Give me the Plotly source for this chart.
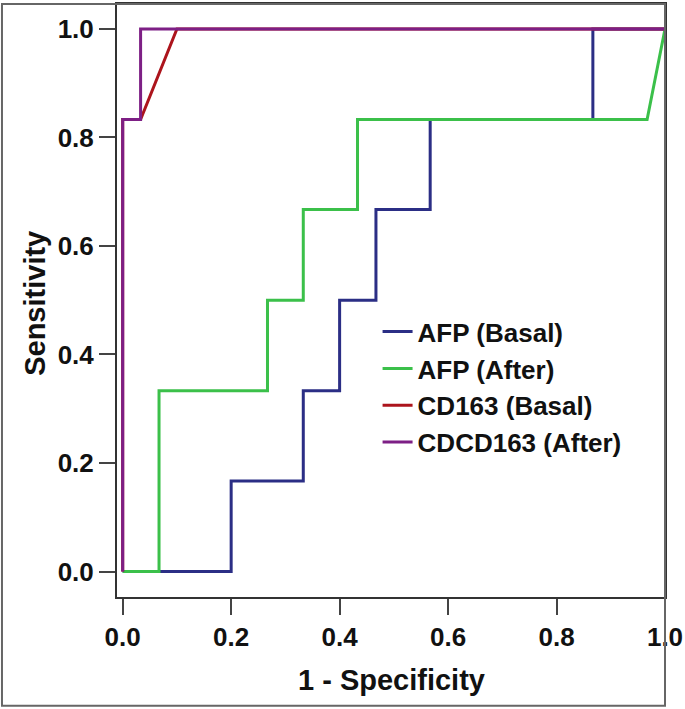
import plotly.graph_objects as go

# ROC curves (30 negatives, 6 positives)
afp_basal_x = [0, 0.2, 0.2, 0.333, 0.333, 0.4, 0.4, 0.467, 0.467, 0.567, 0.567, 0.867, 0.867, 1.0]
afp_basal_y = [0, 0, 0.167, 0.167, 0.333, 0.333, 0.5, 0.5, 0.667, 0.667, 0.833, 0.833, 1.0, 1.0]

afp_after_x = [0, 0.067, 0.067, 0.267, 0.267, 0.333, 0.333, 0.433, 0.433, 0.967, 1.0]
afp_after_y = [0, 0, 0.333, 0.333, 0.5, 0.5, 0.667, 0.667, 0.833, 0.833, 1.0]

cd163_basal_x = [0, 0, 0.033, 0.1, 1.0]
cd163_basal_y = [0, 0.833, 0.833, 1.0, 1.0]

cd163_after_x = [0, 0, 0.033, 0.033, 1.0]
cd163_after_y = [0, 0.833, 0.833, 1.0, 1.0]

series = [
    ("AFP (Basal)", afp_basal_x, afp_basal_y, "#2B2E85"),
    ("AFP (After)", afp_after_x, afp_after_y, "#3BC04A"),
    ("CD163 (Basal)", cd163_basal_x, cd163_basal_y, "#AC141C"),
    ("CDCD163 (After)", cd163_after_x, cd163_after_y, "#7D1F85"),
]

tick_vals = [0, 0.2, 0.4, 0.6, 0.8, 1.0]

FONT = "Liberation Sans"

fig = go.Figure()
for name, xs, ys, color in series:
    fig.add_trace(go.Scatter(
        x=xs, y=ys, mode="lines", name=name,
        line=dict(color=color, width=3),
    ))

axis_common = dict(
    tickvals=tick_vals, tickformat=".1f",
    ticks="outside", ticklen=16, tickwidth=1.5, tickcolor="#444",
    showline=True, linecolor="#333", linewidth=2, mirror=True,
    showgrid=False, zeroline=False,
    tickfont=dict(family=FONT, size=26, color="#111", weight="bold"),
)

fig.update_layout(
    width=685, height=709,
    margin=dict(l=117, r=20, t=2, b=112),
    plot_bgcolor="white", paper_bgcolor="white",
    xaxis=dict(range=[-0.0105, 1.0], **axis_common),
    yaxis=dict(range=[-0.047, 1.046], **axis_common),
    legend=dict(
        x=0.4755, y=0.487, xanchor="left", yanchor="top",
        bgcolor="rgba(0,0,0,0)", borderwidth=0,
        font=dict(family=FONT, size=26, color="#111", weight="bold"),
    ),
    annotations=[
        dict(text="1 - Specificity", xref="paper", yref="paper",
             x=0.5, y=-0.14, xanchor="center", yanchor="middle",
             showarrow=False,
             font=dict(family=FONT, size=29, color="#111", weight="bold")),
        dict(text="Sensitivity", xref="paper", yref="paper",
             x=-0.149, y=0.495, xanchor="center", yanchor="middle",
             textangle=-90, showarrow=False,
             font=dict(family=FONT, size=29, color="#111", weight="bold")),
    ],
    shapes=[
        # outer frame around the whole figure
        dict(type="rect", xref="paper", yref="paper",
             x0=-0.2099, x1=1.0, y0=-0.1832, y1=1.0,
             line=dict(color="#666", width=2)),
    ],
)

# drop the browser's default body margin so the figure sits at the window's corner
fig.write_html("out.html", config={"displayModeBar": False},
               post_script="document.body.style.margin='0';")
